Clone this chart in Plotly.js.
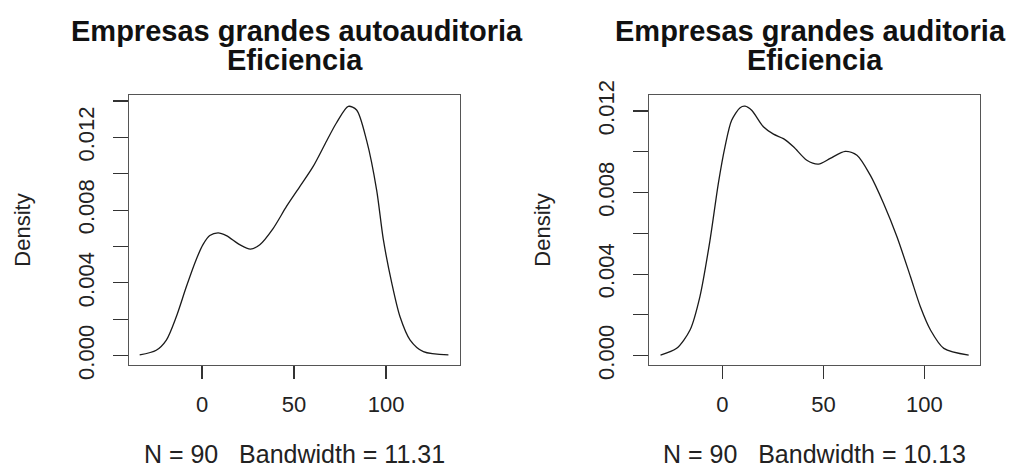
<!DOCTYPE html>
<html>
<head>
<meta charset="utf-8">
<script src="https://cdn.plot.ly/plotly-3.0.1.min.js"></script>
<style>html,body{margin:0;padding:0;background:#fff;}#chart{width:1020px;height:468px;}</style>
</head>
<body>
<div id="chart"></div>
<script>
// Left panel: Empresas grandes autoauditoria (density estimate)
const leftX = [-33.9, -24.9, -19.4, -14.0, -8.5, -3.1, 0.5, 4.2, 8.7, 13.2, 20.5, 26.3, 31.4, 38.7, 45.9, 53.2, 60.4, 67.7, 73.1, 79.5, 84.0, 89.5, 94.9, 98.5, 103.1, 107.6, 113.1, 120.3, 133.9];
const leftY = [0.00004, 0.0003, 0.00086, 0.00214, 0.0038, 0.0053, 0.0061, 0.0066, 0.00675, 0.0066, 0.0061, 0.00586, 0.0061, 0.0070, 0.0082, 0.0093, 0.0104, 0.0118, 0.0128, 0.0137, 0.0135, 0.0118, 0.0091, 0.0064, 0.0040, 0.00214, 0.00086, 0.00022, 0.00004];
// Right panel: Empresas grandes auditoria
const rightX = [-30.6, -22.6, -16.0, -11.1, -6.1, -2.0, 1.3, 4.6, 8.8, 11.2, 14.5, 20.3, 25.3, 30.2, 35.2, 41.8, 47.6, 53.4, 60.8, 66.6, 73.2, 79.8, 86.4, 93.1, 98.0, 103.0, 109.6, 121.9];
const rightY = [0.00003, 0.00036, 0.00126, 0.0029, 0.00567, 0.00844, 0.01024, 0.01154, 0.01216, 0.01223, 0.01203, 0.01122, 0.01086, 0.01064, 0.01024, 0.00958, 0.00939, 0.00967, 0.01002, 0.00983, 0.00885, 0.00746, 0.00583, 0.00387, 0.0024, 0.00126, 0.00036, 0.00003];

const titlesLine1 = ["Empresas grandes autoauditoria", "Empresas grandes auditoria"];
const titleLine2 = "Eficiencia";
const xLabels = ["N = 90   Bandwidth = 11.31", "N = 90   Bandwidth = 10.13"];
const yLabel = "Density";
const xTickVals = [0, 50, 100];
const xTickText = ["0", "50", "100"];
const leftYTickVals = [0, 0.002, 0.004, 0.006, 0.008, 0.010, 0.012, 0.014];
const leftYTickText = ["0.000", "", "0.004", "", "0.008", "", "0.012", ""];
const rightYTickVals = [0, 0.002, 0.004, 0.006, 0.008, 0.010, 0.012];
const rightYTickText = ["0.000", "", "0.004", "", "0.008", "", "0.012"];

const FONT = "Liberation Sans, Arial, Helvetica, sans-serif";
const lineStyle = {color: "#1a1a1a", width: 1.3, shape: "spline", smoothing: 0.8};

const traces = [
  {x: leftX, y: leftY, type: "scatter", mode: "lines", line: lineStyle, xaxis: "x", yaxis: "y", hoverinfo: "x+y"},
  {x: rightX, y: rightY, type: "scatter", mode: "lines", line: lineStyle, xaxis: "x2", yaxis: "y2", hoverinfo: "x+y"}
];

function xAxis(domain, range, label) {
  return {
    domain: domain, range: range, tickmode: "array", tickvals: xTickVals, ticktext: xTickText,
    ticks: "outside", ticklen: 13, tickwidth: 1.2, tickcolor: "#333", ticklabelstandoff: 6,
    showline: true, mirror: true, linecolor: "#555", linewidth: 1.2,
    showgrid: false, zeroline: false, automargin: false,
    tickfont: {family: FONT, size: 22, color: "#222"},
    title: {text: label, font: {family: FONT, size: 25, color: "#222"}, standoff: 34}
  };
}
function yAxis(domain, range, vals, text, anchor) {
  return {
    domain: domain, range: range, anchor: anchor, tickmode: "array", tickvals: vals, ticktext: text,
    ticks: "outside", ticklen: 15, tickwidth: 1.2, tickcolor: "#333", tickangle: -90, ticklabelstandoff: 10,
    showline: true, mirror: true, linecolor: "#555", linewidth: 1.2,
    showgrid: false, zeroline: false, automargin: false,
    tickfont: {family: FONT, size: 22, color: "#222"},
    title: {text: yLabel, font: {family: FONT, size: 22, color: "#222"}, standoff: 37}
  };
}

const yDom = [1 - 365/468, 1 - 95/468];
const TF = 29;
const layout = {
  width: 1020, height: 468,
  margin: {l: 0, r: 0, t: 0, b: 0},
  paper_bgcolor: "#fff", plot_bgcolor: "#fff",
  showlegend: false,
  xaxis: Object.assign(xAxis([129/1020, 460/1020], [-39.7, 140.2], xLabels[0]), {anchor: "y"}),
  yaxis: yAxis(yDom, [-0.000511, 0.014324], leftYTickVals, leftYTickText, "x"),
  xaxis2: Object.assign(xAxis([649/1020, 980/1020], [-36.3, 127.5], xLabels[1]), {anchor: "y2"}),
  yaxis2: yAxis(yDom, [-0.000456, 0.01278], rightYTickVals, rightYTickText, "x2"),
  annotations: [
    {text: "<b>" + titlesLine1[0] + "</b>", xref: "paper", yref: "paper", x: 297/1020, y: 1 - 31/468, xanchor: "center", yanchor: "middle", showarrow: false, font: {family: FONT, size: TF, color: "#111"}},
    {text: "<b>" + titleLine2 + "</b>", xref: "paper", yref: "paper", x: 294.5/1020, y: 1 - 60/468, xanchor: "center", yanchor: "middle", showarrow: false, font: {family: FONT, size: TF, color: "#111"}},
    {text: "<b>" + titlesLine1[1] + "</b>", xref: "paper", yref: "paper", x: 810/1020, y: 1 - 31/468, xanchor: "center", yanchor: "middle", showarrow: false, font: {family: FONT, size: TF, color: "#111"}},
    {text: "<b>" + titleLine2 + "</b>", xref: "paper", yref: "paper", x: 814.5/1020, y: 1 - 60/468, xanchor: "center", yanchor: "middle", showarrow: false, font: {family: FONT, size: TF, color: "#111"}}
  ]
};

Plotly.newPlot("chart", traces, layout, {staticPlot: true, displayModeBar: false});
</script>
</body>
</html>
